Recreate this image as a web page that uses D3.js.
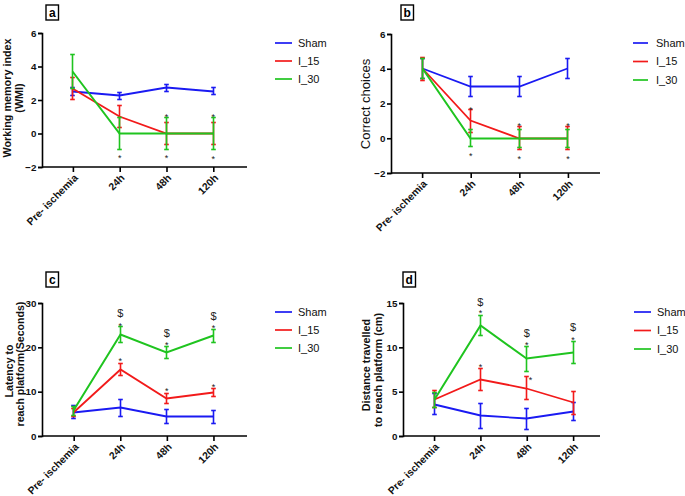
<!DOCTYPE html>
<html><head><meta charset="utf-8">
<script src="https://cdn.jsdelivr.net/npm/d3@7/dist/d3.min.js"></script>
<style>
html,body{margin:0;padding:0;background:#fff;}
svg{display:block;font-family:"Liberation Sans",Arial,sans-serif;}
</style></head>
<body>
<svg id="chart" width="685" height="496"></svg>
<script>
// ---------- DATA ----------
const categories = ["Pre- ischemia", "24h", "48h", "120h"];
const seriesNames = ["Sham", "I_15", "I_30"];

// Panel a: Working memory index
const wmiSham = [2.5, 2.24, 2.72, 2.52];
const wmiShamErr = [0.25, 0.2, 0.2, 0.2];
const wmiI15 = [2.7, 1.0, 0, 0];
const wmiI15Err = [0.67, 0.65, 0.65, 0.65];
const wmiI30 = [3.7, 0, 0, 0];
const wmiI30Err = [1.0, 0.93, 0.93, 0.93];
const wmiTicks = [-2, 0, 2, 4, 6];
const wmiMarks = [[1, -1.3, "*"], [2, 1.16, "*"], [2, -1.3, "*"], [3, 1.16, "*"], [3, -1.35, "*"]];

// Panel b: Correct choices
const ccSham = [4, 3, 3, 4];
const ccShamErr = [0.58, 0.58, 0.58, 0.58];
const ccI15 = [4, 1, 0, 0];
const ccI15Err = [0.65, 0.67, 0.65, 0.65];
const ccI30 = [4, 0, 0, 0];
const ccI30Err = [0.57, 0.5, 0.52, 0.52];
const ccTicks = [-2, 0, 2, 4, 6];
const ccMarks = [[1, 1.78, "*"], [1, -0.86, "*"], [2, 0.86, "*"], [2, -1.02, "*"], [3, 0.86, "*"], [3, -1.02, "*"]];

// Panel c: Latency to reach platform (s)
const latSham = [5.4, 6.4, 4.4, 4.3];
const latShamErr = [1.4, 1.9, 1.5, 1.4];
const latI15 = [5.3, 15.1, 8.5, 9.8];
const latI15Err = [0.8, 1.35, 1.1, 1.0];
const latI30 = [5.7, 22.9, 18.8, 22.6];
const latI30Err = [1.0, 1.85, 1.4, 1.5];
const latTicks = [0, 10, 20, 30];
const latMarks = [[1, 17.5, "*"], [2, 10.7, "*"], [3, 11.7, "*"],
  [1, 25.5, "*"], [1, 27.8, "$"], [2, 21.1, "*"], [2, 23.2, "$"], [3, 25.0, "*"], [3, 27.1, "$"]];

// Panel d: Distance travelled (cm)
const distSham = [3.6, 2.26, 1.92, 2.79];
const distShamErr = [1.2, 1.45, 1.2, 1.0];
const distI15 = [4.15, 6.4, 5.39, 3.73];
const distI15Err = [0.95, 1.25, 1.3, 1.3];
const distI30 = [4.07, 12.46, 8.7, 9.4];
const distI30Err = [0.85, 1.13, 1.4, 1.25];
const distTicks = [0, 5, 10, 15];
const distMarks = [[1, 8.1, "*"], [2.08, 6.63, "*"],
  [1, 14.16, "*"], [1, 15.06, "$"], [2, 10.54, "*"], [2, 11.6, "$"], [3, 11.1, "*"], [3, 12.28, "$"]];

// ---------- STYLE / LAYOUT ----------
const colors = ["#1a1af2", "#f21a1a", "#1fc41f"];
const svg = d3.select("#chart");

const panels = [
  { id: "a", x0: 42, x1: 247, y0: 167, y1: 33, dom: [-0.66, 3.72], ydom: [-2, 6], ticks: wmiTicks,
    series: [[wmiSham, wmiShamErr], [wmiI15, wmiI15Err], [wmiI30, wmiI30Err]], marks: wmiMarks,
    box: [46, 5], title: ["Working memory index", "(WMI)"], titleX: [7, 19], titleY: [98, 98], titleBold: true, titleSize: 10.8,
    legX: 275, legLen: 17, legTextX: 298, legY: 43, legStep: 18 },
  { id: "b", x0: 391, x1: 600, y0: 173, y1: 34, dom: [-0.64, 3.66], ydom: [-2, 6], ticks: ccTicks,
    series: [[ccSham, ccShamErr], [ccI15, ccI15Err], [ccI30, ccI30Err]], marks: ccMarks,
    box: [401, 5], title: ["Correct choices"], titleX: [365], titleY: [104], titleBold: false, titleSize: 13,
    legX: 633, legLen: 15, legTextX: 656, legY: 43, legStep: 18.5 },
  { id: "c", x0: 42, x1: 247, y0: 436, y1: 303, dom: [-0.68, 3.72], ydom: [0, 30], ticks: latTicks,
    series: [[latSham, latShamErr], [latI15, latI15Err], [latI30, latI30Err]], marks: latMarks,
    box: [46, 272], title: ["Latency to", "reach platform(Seconds)"], titleX: [9, 20], titleY: [371, 364], titleBold: true, titleSize: 10.6,
    legX: 275, legLen: 17, legTextX: 298, legY: 312, legStep: 18 },
  { id: "d", x0: 403, x1: 600, y0: 436, y1: 303, dom: [-0.67, 3.58], ydom: [0, 15], ticks: distTicks,
    series: [[distSham, distShamErr], [distI15, distI15Err], [distI30, distI30Err]], marks: distMarks,
    box: [403, 272], title: ["Distance travelled", "to reach platform (cm)"], titleX: [366, 378], titleY: [365, 370], titleBold: true, titleSize: 10.8,
    legX: 634, legLen: 17, legTextX: 657, legY: 312, legStep: 18.5 }
];

const snap = v => Math.round(v - 0.5) + 0.5;

panels.forEach(p => {
  const g = svg.append("g");
  const x = d3.scaleLinear().domain(p.dom).range([p.x0, p.x1]);
  const y = d3.scaleLinear().domain(p.ydom).range([p.y0, p.y1]);

  // Y axis
  const ya = g.append("g").attr("transform", `translate(${p.x0},0)`)
    .call(d3.axisLeft(y).tickValues(p.ticks).tickSize(4).tickPadding(1.5).tickFormat(d3.format("d")));
  ya.select(".domain").attr("stroke", "#000").attr("stroke-width", 1.6);
  ya.selectAll(".tick line").attr("stroke", "#000").attr("stroke-width", 1.6);
  ya.selectAll("text").attr("font-size", 9.8).attr("font-weight", "bold").attr("fill", "#111")
    .attr("font-family", "'Liberation Sans',Arial,sans-serif");

  // X axis
  const xa = g.append("g").attr("transform", `translate(0,${p.y0})`)
    .call(d3.axisBottom(x).tickValues([0, 1, 2, 3]).tickSize(5).tickSizeOuter(0).tickFormat(() => ""));
  xa.select(".domain").attr("stroke", "#000").attr("stroke-width", 1.6).attr("d", `M${p.x0},0H${p.x1}`);
  xa.selectAll(".tick line").attr("stroke", "#000").attr("stroke-width", 1.6);
  categories.forEach((c, i) => {
    g.append("text").attr("transform", `translate(${x(i) + 3},${p.y0 + 9}) rotate(-45)`)
      .attr("text-anchor", "end").attr("dy", "0.35em")
      .attr("font-size", 10.3).attr("font-weight", "bold").attr("fill", "#111").text(c);
  });

  // Series
  p.series.forEach((s, si) => {
    const [vals, errs] = s;
    const col = colors[si];
    const line = d3.line().x((d, i) => snap(x(i))).y(d => snap(y(d)));
    g.append("path").datum(vals).attr("d", line).attr("fill", "none")
      .attr("stroke", col).attr("stroke-width", si === 2 ? 2 : 1.8);
    vals.forEach((v, i) => {
      const cx = snap(x(i)), top = snap(y(v + errs[i])), bot = snap(y(v - errs[i]));
      g.append("line").attr("x1", cx).attr("x2", cx).attr("y1", top).attr("y2", bot)
        .attr("stroke", col).attr("stroke-width", 1.6);
      [top, bot].forEach(yy => g.append("line").attr("x1", cx - 2.3).attr("x2", cx + 2.3)
        .attr("y1", yy).attr("y2", yy).attr("stroke", col).attr("stroke-width", 1.6));
    });
  });

  // Significance marks
  p.marks.forEach(m => {
    const [ci, v, sym] = m;
    g.append("text").attr("x", x(ci)).attr("y", y(v))
      .attr("text-anchor", "middle").attr("dy", sym === "*" ? "0.62em" : "0.36em")
      .attr("font-size", sym === "*" ? 9 : 11).attr("fill", "#222").text(sym);
  });

  // Panel label box
  g.append("rect").attr("x", p.box[0]).attr("y", p.box[1]).attr("width", 12.5).attr("height", 15)
    .attr("fill", "#fff").attr("stroke", "#000").attr("stroke-width", 1.4);
  g.append("text").attr("x", p.box[0] + 6.25).attr("y", p.box[1] + 11.5).attr("text-anchor", "middle")
    .attr("font-size", 12).attr("font-weight", "bold").text(p.id);

  // Y title
  p.title.forEach((t, ti) => {
    g.append("text").attr("transform", `translate(${p.titleX[ti]},${p.titleY[ti]}) rotate(-90)`)
      .attr("text-anchor", "middle").attr("dominant-baseline", "central")
      .attr("font-size", p.titleSize).attr("font-weight", p.titleBold ? "bold" : "normal")
      .attr("fill", "#111").text(t);
  });

  // Legend
  seriesNames.forEach((n, i) => {
    const ly = p.legY + i * p.legStep;
    g.append("line").attr("x1", p.legX).attr("x2", p.legX + p.legLen).attr("y1", ly).attr("y2", ly)
      .attr("stroke", colors[i]).attr("stroke-width", 1.7);
    g.append("text").attr("x", p.legTextX).attr("y", ly).attr("dy", "0.36em")
      .attr("font-size", 11).attr("fill", "#111").text(n);
  });
});
</script>
</body></html>
